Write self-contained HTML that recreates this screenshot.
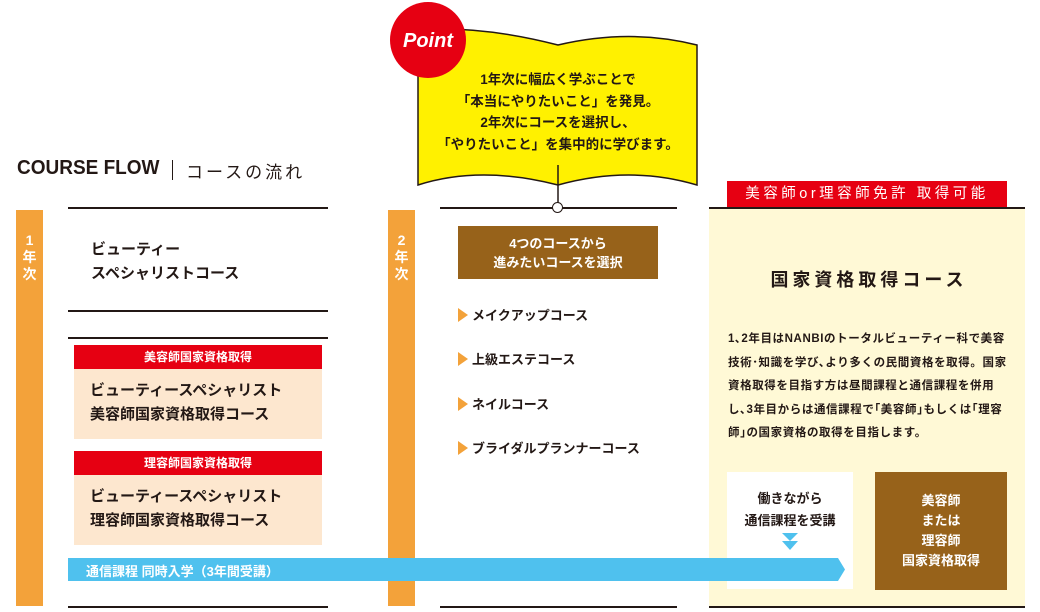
<!DOCTYPE html>
<html><head><meta charset="utf-8"><style>
body{margin:0;width:1040px;height:612px;background:#fff;position:relative;overflow:hidden;font-family:"Liberation Sans","Noto Sans CJK JP",sans-serif;font-weight:bold;color:#231815}
.a{position:absolute}
.ln{position:absolute;height:2px;background:#231815}
.ob{position:absolute;background:#f3a23a;color:#fff;font-size:14px;text-align:center;line-height:17px;padding-top:22px;box-sizing:border-box}
.red{position:absolute;background:#e60012;color:#fff;text-align:center}
.peach{position:absolute;background:#fde7cf;font-size:15px;line-height:24px;padding:10px 0 0 16px;box-sizing:border-box}
.item{position:absolute;left:458px;font-size:13px}
.item:before{content:"";display:inline-block;border-left:10px solid #f3a23a;border-top:7px solid transparent;border-bottom:7px solid transparent;vertical-align:-2px;margin-right:4px}
</style></head><body>
<div class="a" style="left:17px;top:157px;font-size:20px;transform:scaleX(0.95);transform-origin:left">COURSE FLOW</div>
<div class="a" style="left:172px;top:160px;width:1px;height:20px;background:#231815"></div>
<div class="a" style="left:186px;top:158px;font-size:17px;font-weight:normal;letter-spacing:3px">コースの流れ</div>

<svg class="a" style="left:0;top:0" width="1040" height="215">
<path d="M418 30 Q480 25 558 45 Q630 28 697 45 L697 185 Q630 165 558 185 Q480 165 418 185 Z" fill="#fff100" stroke="#231815" stroke-width="1.5"/>
<line x1="558" y1="165" x2="558" y2="203" stroke="#231815" stroke-width="1.5"/>
<circle cx="428" cy="40" r="38" fill="#e60012"/>
<text x="428" y="47" fill="#fff" font-size="20" font-style="italic" font-weight="bold" text-anchor="middle" font-family="Liberation Sans">Point</text>
</svg>
<div class="a" style="left:418px;top:69px;width:280px;text-align:center;font-size:13.5px;line-height:21.5px">1年次に幅広く学ぶことで<br>「本当にやりたいこと」を発見。<br>2年次にコースを選択し、<br>「やりたいこと」を集中的に学びます。</div>

<div class="ob" style="left:16px;top:210px;width:27px;height:396px">1<br>年<br>次</div>
<div class="ln" style="left:68px;top:207px;width:260px"></div>
<div class="ln" style="left:68px;top:310px;width:260px"></div>
<div class="ln" style="left:68px;top:337px;width:260px"></div>
<div class="ln" style="left:68px;top:606px;width:260px"></div>
<div class="a" style="left:91px;top:238px;font-size:15px;line-height:24px">ビューティー<br>スペシャリストコース</div>
<div class="red" style="left:74px;top:345px;width:248px;height:24px;font-size:12px;line-height:24px">美容師国家資格取得</div>
<div class="peach" style="left:74px;top:369px;width:248px;height:70px">ビューティースペシャリスト<br>美容師国家資格取得コース</div>
<div class="red" style="left:74px;top:451px;width:248px;height:24px;font-size:12px;line-height:24px">理容師国家資格取得</div>
<div class="peach" style="left:74px;top:475px;width:248px;height:70px">ビューティースペシャリスト<br>理容師国家資格取得コース</div>

<div class="ob" style="left:388px;top:210px;width:27px;height:396px">2<br>年<br>次</div>
<div class="ln" style="left:440px;top:207px;width:237px"></div>
<div class="ln" style="left:440px;top:606px;width:237px"></div>
<div class="a" style="left:552px;top:202px;width:9px;height:9px;border:1.5px solid #231815;border-radius:50%;background:#fff"></div>
<div class="a" style="left:458px;top:226px;width:200px;height:53px;background:#97621a;color:#fff;text-align:center;font-size:13px;line-height:19px;padding-top:8px;box-sizing:border-box">4つのコースから<br>進みたいコースを選択</div>
<div class="item" style="top:305px">メイクアップコース</div>
<div class="item" style="top:349px">上級エステコース</div>
<div class="item" style="top:394px">ネイルコース</div>
<div class="item" style="top:438px">ブライダルプランナーコース</div>

<div class="a" style="left:709px;top:208px;width:316px;height:398px;background:#fff9d6"></div>
<div class="ln" style="left:709px;top:207px;width:316px"></div>
<div class="ln" style="left:709px;top:606px;width:316px"></div>
<div class="red" style="left:727px;top:181px;width:280px;height:26px;font-size:14.5px;line-height:26px;font-weight:normal;letter-spacing:3.5px">美容師or理容師免許 取得可能</div>
<div class="a" style="left:709px;top:266px;width:316px;text-align:center;font-size:18px;letter-spacing:4px;padding-left:4px;box-sizing:border-box">国家資格取得コース</div>
<div class="a" style="left:728px;top:328px;width:300px;font-size:11.5px;line-height:23.5px;letter-spacing:0.6px;white-space:nowrap">1､2年目はNANBIのトータルビューティー科で美容<br>技術･知識を学び､より多くの民間資格を取得。国家<br>資格取得を目指す方は昼間課程と通信課程を併用<br>し､3年目からは通信課程で｢美容師｣もしくは｢理容<br>師｣の国家資格の取得を目指します。</div>
<div class="a" style="left:727px;top:472px;width:126px;height:117px;background:#fff"></div>
<div class="a" style="left:727px;top:488px;width:126px;text-align:center;font-size:13px;line-height:22px">働きながら<br>通信課程を受講</div>
<svg class="a" style="left:780px;top:533px" width="20" height="18"><path d="M2 0 L18 0 L10 8 Z M2 8 L18 8 L10 17 Z" fill="#4fc1ee"/></svg>
<div class="a" style="left:875px;top:472px;width:132px;height:118px;background:#97621a;color:#fff;text-align:center;font-size:13px;line-height:20px;padding-top:19px;box-sizing:border-box">美容師<br>または<br>理容師<br>国家資格取得</div>

<svg class="a" style="left:68px;top:558px" width="780" height="24"><path d="M0 0 L770 0 L777 11.5 L770 23 L0 23 Z" fill="#4fc1ee"/></svg>
<div class="a" style="left:86px;top:561px;color:#fff;font-size:13px">通信課程 同時入学（3年間受講）</div>
</body></html>
